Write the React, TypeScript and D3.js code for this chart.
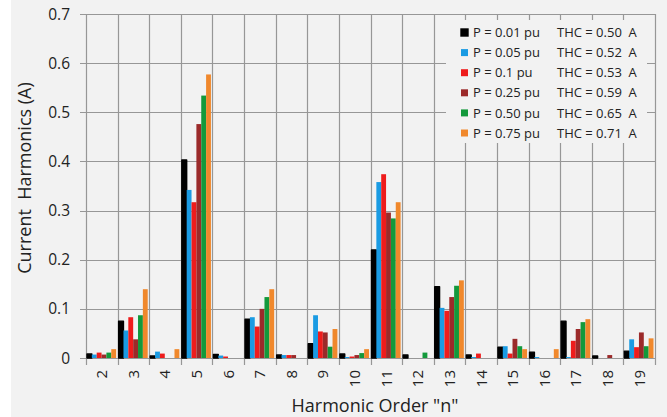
import React, { useEffect, useRef } from 'react';
import * as d3 from 'd3';

// harmonic orders on the x axis
const harmonics = ['2', '3', '4', '5', '6', '7', '8', '9', '10', '11', '12', '13', '14', '15', '16', '17', '18', '19'];

// one array per load level, value per harmonic (A)
const p001 = [0.008, 0.075, 0.004, 0.403, 0.007, 0.079, 0.006, 0.029, 0.008, 0.220, 0.006, 0.145, 0.006, 0.022, 0.012, 0.075, 0.004, 0.014];
const p005 = [0.007, 0.056, 0.013, 0.342, 0.005, 0.083, 0.006, 0.087, 0.002, 0.358, 0.000, 0.102, 0.002, 0.024, 0.002, 0.002, 0.000, 0.038];
const p010 = [0.011, 0.083, 0.009, 0.317, 0.003, 0.064, 0.006, 0.054, 0.003, 0.374, 0.000, 0.096, 0.009, 0.009, 0.000, 0.035, 0.000, 0.022];
const p025 = [0.007, 0.038, 0.000, 0.476, 0.000, 0.100, 0.006, 0.052, 0.006, 0.296, 0.000, 0.124, 0.000, 0.039, 0.000, 0.059, 0.006, 0.052];
const p050 = [0.011, 0.087, 0.000, 0.534, 0.000, 0.124, 0.000, 0.023, 0.010, 0.284, 0.011, 0.147, 0.000, 0.024, 0.000, 0.073, 0.000, 0.024];
const p075 = [0.018, 0.140, 0.018, 0.577, 0.000, 0.140, 0.000, 0.059, 0.018, 0.317, 0.000, 0.158, 0.000, 0.018, 0.018, 0.079, 0.000, 0.040];

const seriesNames = ['P = 0.01 pu', 'P = 0.05 pu', 'P = 0.1 pu', 'P = 0.25 pu', 'P = 0.50 pu', 'P = 0.75 pu'];
const thcLabels = ['THC = 0.50  A', 'THC = 0.52  A', 'THC = 0.53  A', 'THC = 0.59  A', 'THC = 0.65  A', 'THC = 0.71  A'];
const seriesColors = ['#000000', '#1a9be3', '#ee1c1c', '#9b2a2a', '#13993b', '#f0882c'];
const seriesValues = [p001, p005, p010, p025, p050, p075];

const yTicks = [0, 0.1, 0.2, 0.3, 0.4, 0.5, 0.6, 0.7];

const FONT = '"Open Sans", "Noto Sans", sans-serif';

export default function App() {
    const ref = useRef<SVGSVGElement>(null);

    useEffect(() => {
        const svg = d3.select(ref.current);
        svg.selectAll('*').remove();

        // plot area
        const margin = { top: 14, left: 86, right: 12, bottom: 59 };
        const W = 667, H = 417;
        const innerW = W - margin.left - margin.right;
        const innerH = H - margin.top - margin.bottom;

        svg.append('rect')
            .attr('x', 11).attr('y', 0)
            .attr('width', W - 11).attr('height', H)
            .attr('fill', '#f2f2f2');

        const g = svg.append('g')
            .attr('transform', 'translate(' + margin.left + ',' + margin.top + ')');

        const x = d3.scaleBand<string>().domain(harmonics).range([0, innerW]).padding(0);
        const xs = d3.scaleBand<number>()
            .domain(d3.range(seriesValues.length))
            .range([1, x.bandwidth() - 1.5])
            .padding(0);
        const y = d3.scaleLinear().domain([0, 0.7]).range([innerH, 0]);

        const gridColor = '#979797';

        // horizontal grid lines + left ticks
        g.append('g').selectAll('line')
            .data(yTicks)
            .enter().append('line')
            .attr('x1', -6).attr('x2', innerW)
            .attr('y1', d => Math.round(y(d)) + 0.5)
            .attr('y2', d => Math.round(y(d)) + 0.5)
            .attr('stroke', gridColor).attr('stroke-width', 1.2);

        // vertical grid lines + bottom ticks
        const bounds = harmonics.map(h => x(h) as number).concat([innerW]);
        g.append('g').selectAll('line')
            .data(bounds)
            .enter().append('line')
            .attr('x1', d => Math.round(d) + 0.5).attr('x2', d => Math.round(d) + 0.5)
            .attr('y1', 0).attr('y2', innerH + 7)
            .attr('stroke', gridColor).attr('stroke-width', 1.2);

        // y tick labels
        g.append('g').selectAll('text')
            .data(yTicks)
            .enter().append('text')
            .attr('x', -16)
            .attr('y', d => y(d))
            .attr('dy', '0.36em')
            .attr('text-anchor', 'end')
            .attr('font-family', FONT)
            .attr('font-size', 15.5)
            .attr('fill', '#222')
            .text(d => d === 0 ? '0' : d.toFixed(1));

        // x tick labels, rotated
        g.append('g').selectAll('text')
            .data(harmonics)
            .enter().append('text')
            .attr('transform', d => 'translate(' + ((x(d) as number) + x.bandwidth() / 2) + ',' + (innerH + 12) + ') rotate(-90)')
            .attr('dy', '0.36em')
            .attr('text-anchor', 'end')
            .attr('font-family', FONT)
            .attr('font-size', 15)
            .attr('fill', '#222')
            .text(d => d);

        // bars
        seriesValues.forEach((vals, si) => {
            g.append('g').selectAll('rect')
                .data(vals)
                .enter().append('rect')
                .attr('x', (d, i) => (x(harmonics[i]) as number) + (xs(si) as number))
                .attr('y', d => y(d))
                .attr('width', xs.bandwidth())
                .attr('height', d => innerH - y(d))
                .attr('fill', seriesColors[si])
                .attr('stroke', si === 0 ? '#000' : 'none')
                .attr('stroke-width', si === 0 ? 1.4 : 0)
                .attr('stroke-linejoin', 'round');
        });

        // legend
        const lg = svg.append('g');
        lg.append('rect')
            .attr('x', 446).attr('y', 20)
            .attr('width', 201).attr('height', 123)
            .attr('fill', '#f2f2f2');
        seriesNames.forEach((name, i) => {
            const cy = 32.5 + i * 20.1;
            lg.append('rect')
                .attr('x', 461).attr('y', cy - 3.5)
                .attr('width', 7).attr('height', 7)
                .attr('fill', seriesColors[i])
                .attr('stroke', i === 0 ? '#000' : 'none')
                .attr('stroke-width', i === 0 ? 1.4 : 0);
            lg.append('text')
                .attr('x', 473).attr('y', cy)
                .attr('dy', '0.36em')
                .attr('font-family', FONT)
                .attr('font-size', 13)
                .attr('fill', '#222')
                .text(name);
            lg.append('text')
                .attr('x', 557).attr('y', cy)
                .attr('dy', '0.36em')
                .attr('font-family', FONT)
                .attr('font-size', 13)
                .attr('fill', '#222')
                .style('white-space', 'pre')
                .text(thcLabels[i]);
        });

        // axis titles
        svg.append('text')
            .attr('x', 375).attr('y', 412)
            .attr('text-anchor', 'middle')
            .attr('font-family', FONT)
            .attr('font-size', 18)
            .attr('fill', '#222')
            .text('Harmonic Order "n"');

        svg.append('text')
            .attr('transform', 'translate(31,178) rotate(-90)')
            .attr('text-anchor', 'middle')
            .attr('font-family', FONT)
            .attr('font-size', 18)
            .attr('fill', '#222')
            .style('white-space', 'pre')
            .text('Current  Harmonics (A)');
    }, []);

    return (
        <svg ref={ref} width={667} height={417}
            style={{ position: 'absolute', left: 0, top: 0, display: 'block' }} />
    );
}
